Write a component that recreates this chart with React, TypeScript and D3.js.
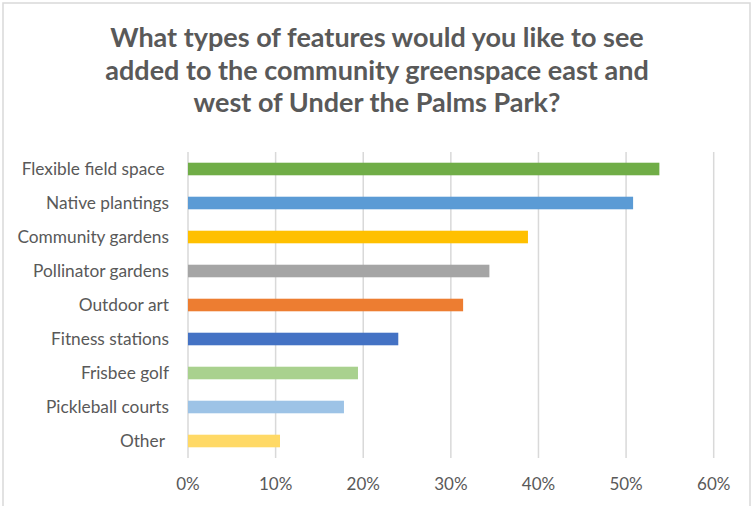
import React from "react";
import * as d3 from "d3";

const categories = [
  "Flexible field space ",
  "Native plantings",
  "Community gardens",
  "Pollinator gardens",
  "Outdoor art",
  "Fitness stations",
  "Frisbee golf",
  "Pickleball courts",
  "Other ",
];
const values = [0.538, 0.508, 0.388, 0.344, 0.314, 0.24, 0.194, 0.178, 0.105];
const colors = [
  "#70AD47",
  "#5B9BD5",
  "#FFC000",
  "#A5A5A5",
  "#ED7D31",
  "#4472C4",
  "#A9D18E",
  "#9DC3E6",
  "#FFD966",
];
const tickValues = [0, 0.1, 0.2, 0.3, 0.4, 0.5, 0.6];
const titleLines = [
  "What types of features would you like to see",
  "added to the community greenspace east and",
  "west of Under the Palms Park?",
];

const W = 752;
const H = 506;
const left = 188;
const right = 713.7;
const top = 152;
const bottom = 458;
const textColor = "#595959";
const font = "Lato, 'Open Sans', sans-serif";

export default function App() {
  const x = d3.scaleLinear().domain([0, 0.6]).range([left, right]);
  const y = d3
    .scaleBand<string>()
    .domain(categories)
    .range([top, bottom])
    .paddingInner(0.63)
    .paddingOuter(0.315);
  const fmt = d3.format(".0%");

  return (
    <svg
      width={W}
      height={H}
      style={{ position: "absolute", left: 0, top: 0, background: "#fff" }}
      fontFamily={font}
    >
      <rect x={0} y={0} width={W} height={H} fill="#fff" />
      <rect
        x={3}
        y={3}
        width={747}
        height={H + 10}
        fill="none"
        stroke="#d9d9d9"
        strokeWidth={1.5}
      />
      {titleLines.map((t, i) => (
        <text
          key={i}
          x={377}
          y={47 + i * 32.6}
          textAnchor="middle"
          fontSize={27}
          fontWeight="bold"
          fill={textColor}
        >
          {t}
        </text>
      ))}
      {tickValues.map((v) => (
        <line
          key={"g" + v}
          x1={x(v)}
          x2={x(v)}
          y1={top}
          y2={bottom}
          stroke="#d9d9d9"
          strokeWidth={1.5}
        />
      ))}
      {categories.map((c, i) => (
        <rect
          key={"b" + c}
          x={x(0)}
          y={y(c)}
          width={x(values[i]) - x(0)}
          height={y.bandwidth()}
          fill={colors[i]}
        />
      ))}
      {categories.map((c) => (
        <text
          key={"l" + c}
          x={169}
          y={(y(c) as number) + y.bandwidth() / 2}
          dy="0.36em"
          textAnchor="end"
          fontSize={17.3}
          fill={textColor}
          style={{ whiteSpace: "pre" }}
        >
          {c}
        </text>
      ))}
      {tickValues.map((v) => (
        <text
          key={"t" + v}
          x={x(v)}
          y={489.5}
          textAnchor="middle"
          fontSize={17}
          fill={textColor}
        >
          {fmt(v)}
        </text>
      ))}
    </svg>
  );
}
